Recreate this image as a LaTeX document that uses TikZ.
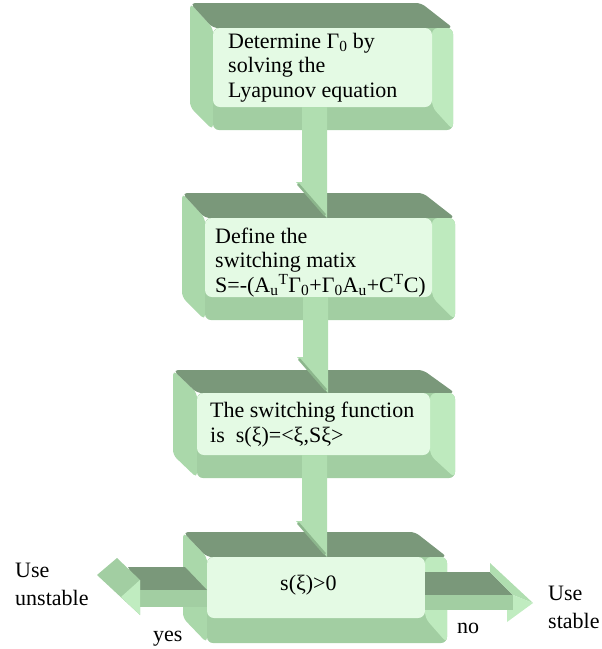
\documentclass[tikz,border=0pt]{standalone}
\usepackage{fontspec}
\setmainfont{Liberation Serif}

\definecolor{bandtop}{RGB}{122,152,122}
\definecolor{bandleft}{RGB}{170,216,170}
\definecolor{bandbot}{RGB}{162,206,162}
\definecolor{bandright}{RGB}{190,234,190}
\definecolor{facegreen}{RGB}{228,250,228}
\definecolor{shaftgreen}{RGB}{176,222,176}
\definecolor{stripegreen}{RGB}{140,182,140}
\definecolor{headlight}{RGB}{192,236,192}

% bevelled slab: L, T, FL, FT, FR, FB, R, B
\newcommand{\slab}[8]{%
  \fill[bandleft, rounded corners=5] (#1,#2) -- (#3,#4) -- (#3,#8) -- (#1,#6) -- cycle;
  \fill[bandtop, rounded corners=5] (#1,#2) -- (#7-32,#2) -- (#7,#4) -- (#3,#4) -- cycle;
  \fill[bandbot, rounded corners=6] (#3,#4) rectangle (#7,#8);
  \fill[bandright, rounded corners=6] (#5,#4) -- (#7,#4) -- (#7,#8) -- (#5,#6) -- cycle;
  \fill[facegreen, rounded corners=7] (#3,#4) rectangle (#5,#6);
}
% down arrow from one slab into the next
\newcommand{\downflow}[2]{%
  \fill[shaftgreen] (#1) -- (#1 -| #2) -- (#2) -- ([xshift=-31pt,yshift=36pt]#2)
    -- ([xshift=-25pt,yshift=36pt]#2) -- cycle;
  \draw[stripegreen, line width=2.5pt] ([xshift=-29pt,yshift=34pt]#2) -- ([xshift=-2pt,yshift=3pt]#2);
}

\tikzset{
  boxtext/.style={anchor=base west, align=left, inner sep=0pt, font=\fontsize{22}{24.5}\selectfont},
  sidetext/.style={anchor=base west, align=left, inner sep=0pt, font=\fontsize{22}{28}\selectfont}
}

\begin{document}
\begin{tikzpicture}[x=1pt, y=-1pt]
\useasboundingbox (0,0) rectangle (602,649);

\slab{190}{3}{213}{28}{432}{107}{453}{130}
\slab{182}{193}{205}{218}{432}{297}{455}{320}
\slab{173}{370}{197}{393}{430}{455}{455}{478}
\slab{183}{532}{207}{557}{425}{618}{447}{643}

\coordinate (b1bot) at (302,107);
\coordinate (b2top) at (327,218);
\coordinate (b2bot) at (303,297);
\coordinate (b3top) at (328,393);
\coordinate (b3bot) at (302,455);
\coordinate (b4top) at (327,557);

\downflow{b1bot}{b2top}
\downflow{b2bot}{b3top}
\downflow{b3bot}{b4top}

% left arrow (yes)
\fill[bandtop] (128,567) -- (185,567) -- (207,590) -- (140,590) -- cycle;
\fill[bandbot] (140,590) -- (207,590) -- (207,607) -- (140,607) -- cycle;
\fill[bandbot] (97,575) -- (117,558) -- (140,580) -- (140,615) -- cycle;
\fill[headlight] (121,597) -- (140,580) -- (140,615) -- cycle;

% right arrow (no)
\fill[bandtop] (425,572) -- (490,572) -- (513,595) -- (425,595) -- cycle;
\fill[bandbot] (425,595) -- (513,595) -- (513,610) -- (425,610) -- cycle;
\fill[shaftgreen] (490,563) -- (533,603) -- (513,595) -- (490,572) -- cycle;
\fill[headlight] (513,595) -- (533,603) -- (507,622) -- (507,610) -- (513,610) -- cycle;

\node[boxtext] (lyap) at (228,97) {Determine Γ\textsubscript{0} by\\solving the\\Lyapunov equation};
\node[boxtext] (smat) at (215,292) {Define the\\switching matix\\S=-(A\textsubscript{u}\textsuperscript{T}Γ\textsubscript{0}+Γ\textsubscript{0}A\textsubscript{u}+C\textsuperscript{T}C)};
\node[boxtext] (sfun) at (210,442) {The switching function\\is\ \ s(ξ)=<ξ,Sξ>};
\node[boxtext] (test) at (280,590) {s(ξ)>0};

\node[sidetext] (unst) at (15,605) {Use\\unstable};
\node[sidetext] (stab) at (548,628) {Use\\stable};
\node[sidetext] (yes) at (153,641) {yes};
\node[sidetext] (no) at (457,633) {no};
\end{tikzpicture}
\end{document}
